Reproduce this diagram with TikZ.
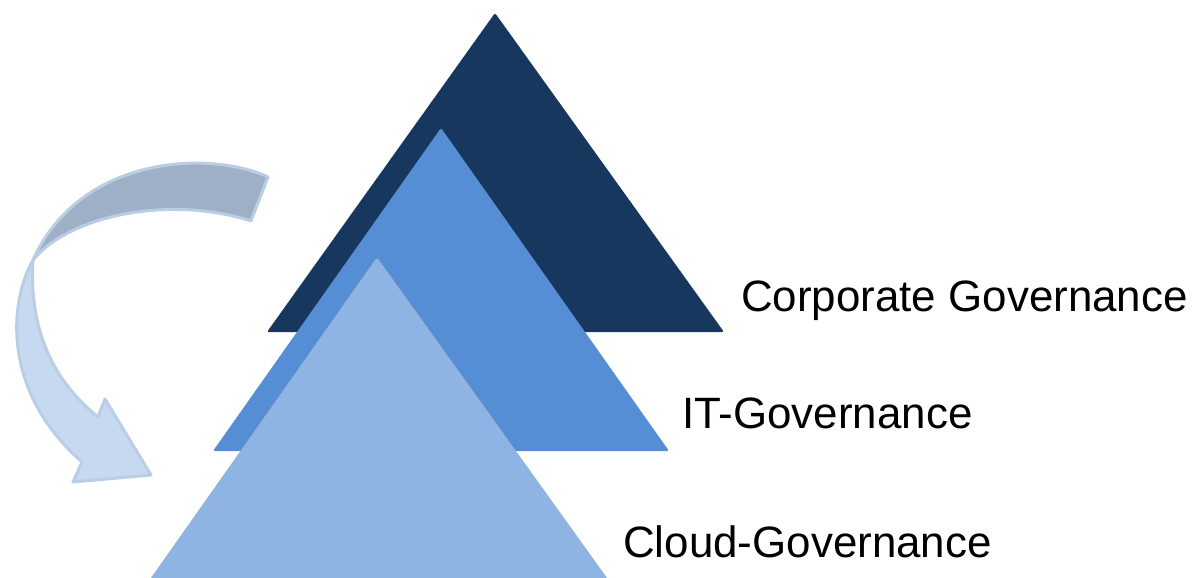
\documentclass[tikz,border=0pt]{standalone}
\usepackage{fontspec}
\setmainfont{Liberation Sans}
\definecolor{corpblue}{HTML}{17375E}
\definecolor{itblue}{HTML}{558ED5}
\definecolor{cloudblue}{HTML}{8EB4E3}
\definecolor{cloudline}{HTML}{95B3D7}
\definecolor{arrowback}{HTML}{9FAFC6}
\definecolor{arrowfront}{HTML}{C6D9F0}
\definecolor{arrowline}{HTML}{B9CDE5}

\begin{document}
\begin{tikzpicture}[x=1pt,y=-1pt,
    tri/.style={rounded corners=2pt},
    lbl/.style={anchor=base west,inner sep=0pt,font=\fontsize{43.9}{48}\selectfont}]
      \useasboundingbox (0,0) rectangle (1195,578);

      % curved arrow
      \coordinate (tw) at (33,260);
      \fill[arrowback,draw=arrowline,line width=3pt,line join=round]
      (268,177) .. controls (210,150) and (80,155) .. (tw)
      .. controls (70,215) and (170,195) .. (251,221) -- cycle;
      \fill[arrowfront,draw=arrowline,line width=3pt,line join=round]
      (tw) .. controls (10,300) and (0,390) .. (82,462)
      -- (73,482) -- (151,475) -- (105,399) -- (98,417)
      .. controls (40,370) and (30,310) .. (tw) -- cycle;

      % triangles
      \fill[tri,corpblue] (495,13) -- (724,332) -- (267,332) -- cycle;
      \fill[tri,itblue] (441,128) -- (669,451) -- (213,451) -- cycle;
      \fill[tri,cloudblue,draw=cloudline,line width=0.8pt]
      (377,258) -- (608,580) -- (150,580) -- cycle;

      \node[lbl] (corp) at (741,311) {Corporate Governance};
      \node[lbl] (itg) at (682,428) {IT-Governance};
      \node[lbl] (cloud) at (623,557) {Cloud-Governance};
  \end{tikzpicture}
\end{document}
